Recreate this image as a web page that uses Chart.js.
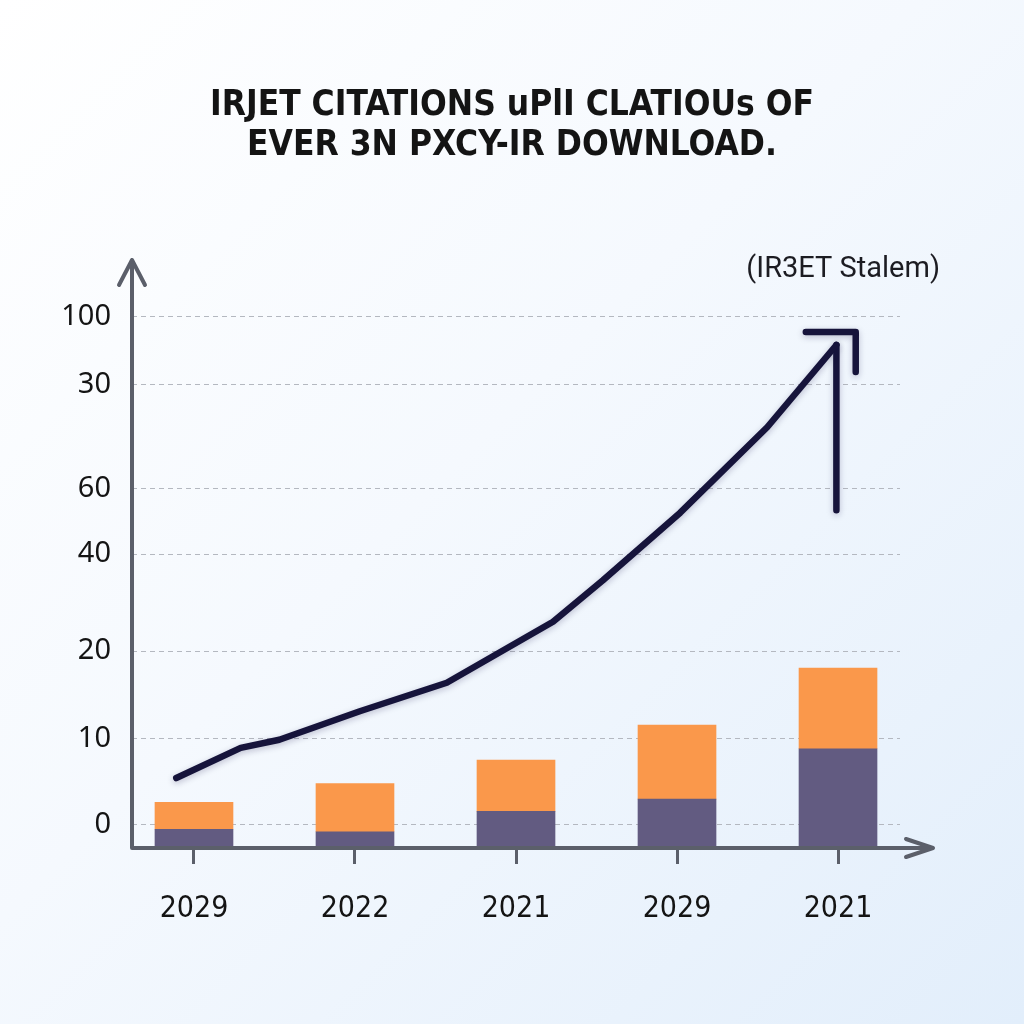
<!DOCTYPE html>
<html>
<head>
<meta charset="utf-8">
<script src="https://cdn.jsdelivr.net/npm/chart.js@4"></script>
<style>
  html, body { margin: 0; padding: 0; }
  body {
    width: 1024px; height: 1024px; overflow: hidden;
    background: linear-gradient(135deg, #ffffff 0%, #f5f9fe 45%, #e2eefb 100%);
  }
  canvas { display: block; }
</style>
</head>
<body>
<canvas id="chart" width="1024" height="1024"></canvas>
<script>
// values, in the chart's own axis units
const xLabels = ['2029', '2022', '2021', '2029', '2021'];
const yTickValues = [2.9, 13.4, 24.2, 36.1, 44.2, 56.9, 65.3];
const yTickLabels = ['0', '10', '20', '40', '60', '30', '100'];
const lowerValues = [2.3, 2.0, 4.5, 6.0, 12.2];
const upperValues = [3.3, 5.9, 6.3, 9.1, 9.9];
const trendX = [-0.11, 0.29, 0.53, 1.03, 1.57, 2.23, 2.54, 3.02, 3.56, 3.99];
const trendY = [8.6, 12.3, 13.3, 16.8, 20.3, 27.8, 32.9, 41.2, 51.7, 61.8];
const headX = [3.80, 4.11, 4.11];
const headY = [63.4, 63.4, 58.5];
const stemX = [3.99, 3.99];
const stemY = [61.8, 41.5];

const titleLines = ['IRJET CITATIONS uPlI CLATIOUs OF', 'EVER 3N PXCY-IR DOWNLOAD.'];
const subtitleText = '(IR3ET Stalem)';

const COLORS = {
  lower: '#625b81',
  upper: '#fa984b',
  line: '#16143b',
  axis: '#5b5f6a',
  grid: '#b4b8c0',
  text: '#141414'
};

const pts = (xs, ys) => xs.map((x, i) => ({ x, y: ys[i] }));

function lineSet(data, stack) {
  return {
    type: 'line',
    data,
    stack,
    borderColor: COLORS.line,
    borderWidth: 6.5,
    borderCapStyle: 'round',
    borderJoinStyle: 'round',
    tension: 0,
    pointRadius: 0,
    fill: false,
    order: 0
  };
}

// axes with arrow heads + the small caption over the plot
const axesPlugin = {
  id: 'axesArrows',
  afterDatasetsDraw(chart) {
    const { ctx, chartArea: a } = chart;
    ctx.save();
    ctx.strokeStyle = COLORS.axis;
    ctx.lineWidth = 4;
    ctx.lineCap = 'round';
    ctx.lineJoin = 'round';
    const top = a.top - 30;
    const right = a.right + 33;
    ctx.beginPath();
    ctx.moveTo(a.left, a.bottom);
    ctx.lineTo(a.left, top);
    ctx.moveTo(a.left - 13, top + 25);
    ctx.lineTo(a.left, top);
    ctx.lineTo(a.left + 13, top + 25);
    ctx.moveTo(a.left, a.bottom);
    ctx.lineTo(right, a.bottom);
    ctx.moveTo(right - 27, a.bottom - 9);
    ctx.lineTo(right, a.bottom);
    ctx.lineTo(right - 27, a.bottom + 9);
    ctx.stroke();

    ctx.fillStyle = '#1c1c22';
    ctx.font = '29px Roboto, "Noto Sans", sans-serif';
    ctx.textAlign = 'right';
    ctx.textBaseline = 'middle';
    ctx.fillText(subtitleText, a.right + 40, a.top - 20);
    ctx.restore();
  }
};

// soft shadow under the trend line
const shadowPlugin = {
  id: 'lineShadow',
  beforeDatasetDraw(chart, args) {
    if (args.meta.type !== 'line') return;
    const ctx = chart.ctx;
    ctx.save();
    ctx.shadowColor = 'rgba(22, 20, 70, 0.25)';
    ctx.shadowBlur = 6;
    ctx.shadowOffsetY = 2;
  },
  afterDatasetDraw(chart, args) {
    if (args.meta.type !== 'line') return;
    chart.ctx.restore();
  }
};

new Chart(document.getElementById('chart'), {
  type: 'bar',
  data: {
    datasets: [
      {
        data: pts([0, 1, 2, 3, 4], lowerValues),
        backgroundColor: COLORS.lower,
        stack: 'bars',
        barThickness: 78,
        order: 2
      },
      {
        data: pts([0, 1, 2, 3, 4], upperValues),
        backgroundColor: COLORS.upper,
        stack: 'bars',
        barThickness: 78,
        order: 2
      },
      lineSet(pts(trendX, trendY), 'trend'),
      lineSet(pts(headX, headY), 'head'),
      lineSet(pts(stemX, stemY), 'stem')
    ]
  },
  options: {
    responsive: false,
    animation: false,
    layout: { padding: 0 },
    plugins: {
      legend: { display: false },
      tooltip: { enabled: false },
      title: {
        display: true,
        text: titleLines,
        color: COLORS.text,
        font: { family: '"Liberation Sans Narrow", "DejaVu Sans Condensed", sans-serif', size: 35, weight: 'bold', lineHeight: 1.143 },
        padding: { top: 86, bottom: 124 }
      }
    },
    scales: {
      x: {
        type: 'linear',
        stacked: true,
        offset: false,
        min: -0.385,
        max: 4.385,
        afterBuildTicks: s => { s.ticks = xLabels.map((_, i) => ({ value: i })); },
        afterFit: s => { s.height = 176; },
        border: { display: false },
        grid: { offset: false, drawOnChartArea: false, drawTicks: true, tickLength: 16, tickWidth: 3, tickColor: COLORS.axis },
        ticks: {
          autoSkip: false,
          maxRotation: 0,
          padding: 27,
          color: COLORS.text,
          font: { family: '"Liberation Sans Narrow", "DejaVu Sans Condensed", sans-serif', size: 30 },
          callback: (v, i) => xLabels[i]
        }
      },
      y: {
        stacked: true,
        min: 0,
        max: 68.56,
        afterBuildTicks: s => { s.ticks = yTickValues.map(v => ({ value: v })); },
        afterFit: s => { s.width = 132; },
        border: { display: false, dash: [5, 4] },
        grid: { color: COLORS.grid, lineWidth: 1, drawTicks: false },
        ticks: {
          autoSkip: false,
          padding: 21,
          color: COLORS.text,
          font: { family: '"Noto Sans", "Open Sans", sans-serif', size: 29 },
          callback: (v, i) => yTickLabels[i]
        }
      },
      yR: {
        position: 'right',
        display: true,
        afterFit: s => { s.width = 124; },
        border: { display: false },
        grid: { display: false },
        ticks: { display: false }
      }
    }
  },
  plugins: [shadowPlugin, axesPlugin]
});
</script>
</body>
</html>
